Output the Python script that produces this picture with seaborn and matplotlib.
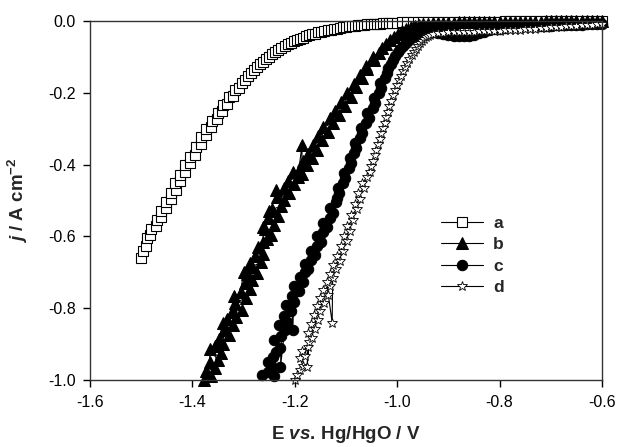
import matplotlib
matplotlib.use("Agg")
import matplotlib.pyplot as plt
import seaborn as sns

# (E / V, j / A cm-2) pairs, in scan order
pts_a = [(-1.500, -0.660), (-1.497, -0.640), (-1.490, -0.628), (-1.488, -0.605), (-1.482, -0.596),
         (-1.480, -0.580), (-1.472, -0.572), (-1.470, -0.555), (-1.462, -0.546), (-1.462, -0.528),
         (-1.452, -0.522), (-1.452, -0.503), (-1.442, -0.496), (-1.442, -0.478), (-1.432, -0.472),
         (-1.434, -0.452), (-1.424, -0.446), (-1.424, -0.428), (-1.414, -0.422), (-1.414, -0.402),
         (-1.404, -0.396), (-1.404, -0.378), (-1.394, -0.372), (-1.392, -0.350), (-1.384, -0.344),
         (-1.384, -0.324), (-1.374, -0.318), (-1.374, -0.300), (-1.364, -0.296), (-1.362, -0.278),
         (-1.352, -0.272), (-1.350, -0.256), (-1.342, -0.250), (-1.340, -0.234), (-1.332, -0.230),
         (-1.328, -0.212), (-1.320, -0.208), (-1.316, -0.191), (-1.308, -0.187), (-1.304, -0.172),
         (-1.298, -0.163), (-1.292, -0.154), (-1.286, -0.145), (-1.280, -0.137), (-1.274, -0.128),
         (-1.268, -0.120), (-1.262, -0.113), (-1.256, -0.106), (-1.250, -0.099), (-1.244, -0.092),
         (-1.238, -0.086), (-1.232, -0.080), (-1.226, -0.075), (-1.220, -0.070), (-1.214, -0.065),
         (-1.208, -0.061), (-1.202, -0.057), (-1.196, -0.053), (-1.190, -0.049), (-1.184, -0.046),
         (-1.178, -0.043), (-1.172, -0.040), (-1.166, -0.037), (-1.160, -0.035), (-1.154, -0.032),
         (-1.148, -0.030), (-1.142, -0.028), (-1.136, -0.026), (-1.130, -0.024), (-1.124, -0.022),
         (-1.118, -0.021), (-1.112, -0.019), (-1.106, -0.018), (-1.100, -0.016), (-1.094, -0.015),
         (-1.088, -0.014), (-1.082, -0.013), (-1.076, -0.012), (-1.070, -0.011), (-1.064, -0.010),
         (-1.058, -0.009), (-1.052, -0.008), (-1.046, -0.008), (-1.040, -0.007), (-1.034, -0.007),
         (-1.028, -0.006), (-1.022, -0.006), (-1.016, -0.005), (-1.010, -0.005), (-1.000, -0.005),
         (-0.990, -0.004), (-0.980, -0.004), (-0.970, -0.004), (-0.960, -0.004), (-0.950, -0.003),
         (-0.940, -0.003), (-0.930, -0.003), (-0.920, -0.003), (-0.910, -0.003), (-0.900, -0.003),
         (-0.890, -0.002), (-0.880, -0.002), (-0.870, -0.002), (-0.860, -0.002), (-0.850, -0.002),
         (-0.840, -0.002), (-0.830, -0.002), (-0.820, -0.002), (-0.810, -0.002), (-0.800, -0.002),
         (-0.790, -0.001), (-0.780, -0.001), (-0.770, -0.001), (-0.760, -0.001), (-0.750, -0.001),
         (-0.740, -0.001), (-0.730, -0.001), (-0.720, -0.001), (-0.710, -0.001), (-0.700, -0.001),
         (-0.690, -0.001), (-0.680, -0.001), (-0.670, -0.001), (-0.660, 0.000), (-0.650, 0.000),
         (-0.640, 0.000), (-0.630, 0.000), (-0.620, 0.000), (-0.610, 0.000), (-0.600, 0.000)]

pts_b = [(-1.378, -1.000), (-1.364, -0.990), (-1.374, -0.975), (-1.356, -0.968), (-1.366, -0.950),
         (-1.366, -0.915), (-1.350, -0.945), (-1.344, -0.925), (-1.356, -0.905), (-1.340, -0.900),
         (-1.340, -0.840), (-1.348, -0.885), (-1.328, -0.875), (-1.338, -0.860), (-1.320, -0.848),
         (-1.332, -0.830), (-1.314, -0.825), (-1.318, -0.765), (-1.322, -0.810), (-1.304, -0.805),
         (-1.316, -0.785), (-1.296, -0.772), (-1.306, -0.755), (-1.300, -0.700), (-1.288, -0.748),
         (-1.298, -0.730), (-1.284, -0.722), (-1.288, -0.675), (-1.294, -0.705), (-1.274, -0.702),
         (-1.284, -0.685), (-1.266, -0.672), (-1.278, -0.655), (-1.262, -0.648), (-1.272, -0.630),
         (-1.262, -0.615), (-1.262, -0.575), (-1.254, -0.608), (-1.246, -0.596), (-1.258, -0.580),
         (-1.250, -0.530), (-1.240, -0.568), (-1.252, -0.550), (-1.232, -0.542), (-1.244, -0.525),
         (-1.226, -0.515), (-1.236, -0.470), (-1.222, -0.500), (-1.234, -0.490), (-1.212, -0.480),
         (-1.222, -0.465), (-1.202, -0.455), (-1.214, -0.445), (-1.194, -0.435), (-1.204, -0.420),
         (-1.186, -0.425), (-1.186, -0.345), (-1.192, -0.415), (-1.176, -0.402), (-1.184, -0.390),
         (-1.166, -0.382), (-1.174, -0.370), (-1.156, -0.358), (-1.164, -0.345), (-1.146, -0.332),
         (-1.154, -0.320), (-1.136, -0.308), (-1.144, -0.295), (-1.126, -0.285), (-1.132, -0.270),
         (-1.114, -0.262), (-1.122, -0.250), (-1.102, -0.237), (-1.110, -0.225), (-1.090, -0.212),
         (-1.098, -0.200), (-1.080, -0.185), (-1.084, -0.175), (-1.068, -0.160), (-1.072, -0.150),
         (-1.058, -0.135), (-1.060, -0.125), (-1.046, -0.110), (-1.048, -0.100), (-1.036, -0.088),
         (-1.030, -0.075), (-1.022, -0.064), (-1.014, -0.053), (-1.006, -0.044), (-0.998, -0.036),
         (-0.990, -0.028), (-0.982, -0.022), (-0.974, -0.017), (-0.966, -0.013), (-0.958, -0.010),
         (-0.950, -0.008), (-0.940, -0.007), (-0.930, -0.006), (-0.920, -0.006), (-0.910, -0.005),
         (-0.900, -0.005), (-0.890, -0.005), (-0.880, -0.004), (-0.870, -0.004), (-0.860, -0.004),
         (-0.850, -0.004), (-0.840, -0.003), (-0.830, -0.003), (-0.820, -0.003), (-0.810, -0.003),
         (-0.800, -0.003), (-0.790, -0.003), (-0.780, -0.002), (-0.770, -0.002), (-0.760, -0.002),
         (-0.750, -0.002), (-0.740, -0.002), (-0.730, -0.002), (-0.720, -0.002), (-0.710, -0.001),
         (-0.700, -0.001), (-0.690, -0.001), (-0.680, -0.001), (-0.670, -0.001), (-0.660, -0.001),
         (-0.650, -0.001), (-0.640, -0.001), (-0.630, 0.000), (-0.620, 0.000), (-0.610, 0.000),
         (-0.600, 0.000)]

pts_c = [(-1.264, -0.985), (-1.252, -0.978), (-1.244, -0.965), (-1.252, -0.950), (-1.242, -0.935),
         (-1.240, -0.990), (-1.236, -0.922), (-1.228, -0.910), (-1.240, -0.890), (-1.226, -0.878),
         (-1.228, -0.965), (-1.220, -0.862), (-1.230, -0.848), (-1.216, -0.838), (-1.222, -0.822),
         (-1.208, -0.808), (-1.218, -0.792), (-1.202, -0.782), (-1.204, -0.862), (-1.206, -0.765),
         (-1.192, -0.752), (-1.202, -0.738), (-1.184, -0.728), (-1.190, -0.712), (-1.180, -0.700),
         (-1.174, -0.690), (-1.180, -0.676), (-1.168, -0.665), (-1.160, -0.652), (-1.168, -0.640),
         (-1.156, -0.628), (-1.148, -0.615), (-1.156, -0.600), (-1.144, -0.588), (-1.138, -0.575),
         (-1.144, -0.562), (-1.132, -0.548), (-1.126, -0.535), (-1.132, -0.520), (-1.120, -0.505),
         (-1.118, -0.492), (-1.114, -0.478), (-1.116, -0.464), (-1.106, -0.452), (-1.102, -0.438),
         (-1.104, -0.424), (-1.094, -0.410), (-1.090, -0.396), (-1.092, -0.382), (-1.084, -0.368),
         (-1.080, -0.354), (-1.082, -0.340), (-1.072, -0.326), (-1.068, -0.312), (-1.070, -0.298),
         (-1.060, -0.284), (-1.056, -0.270), (-1.058, -0.256), (-1.048, -0.242), (-1.044, -0.228),
         (-1.046, -0.214), (-1.036, -0.200), (-1.032, -0.186), (-1.034, -0.172), (-1.024, -0.158),
         (-1.020, -0.145), (-1.018, -0.132), (-1.012, -0.120), (-1.008, -0.108), (-1.004, -0.097),
         (-0.998, -0.087), (-0.994, -0.078), (-0.988, -0.069), (-0.982, -0.060), (-0.976, -0.052),
         (-0.970, -0.045), (-0.962, -0.039), (-0.954, -0.034), (-0.946, -0.031), (-0.938, -0.030),
         (-0.930, -0.031), (-0.920, -0.033), (-0.910, -0.036), (-0.900, -0.039), (-0.890, -0.041),
         (-0.880, -0.043), (-0.870, -0.043), (-0.860, -0.041), (-0.850, -0.038), (-0.840, -0.034),
         (-0.830, -0.030), (-0.820, -0.026), (-0.810, -0.023), (-0.800, -0.021), (-0.790, -0.019),
         (-0.780, -0.018), (-0.770, -0.017), (-0.760, -0.016), (-0.750, -0.015), (-0.740, -0.015),
         (-0.730, -0.014), (-0.720, -0.014), (-0.710, -0.013), (-0.700, -0.013), (-0.690, -0.012),
         (-0.680, -0.012), (-0.670, -0.011), (-0.660, -0.011), (-0.650, -0.010), (-0.640, -0.010),
         (-0.630, -0.009), (-0.620, -0.009), (-0.610, -0.008), (-0.600, -0.008)]

pts_d = [(-1.200, -1.000), (-1.196, -0.985), (-1.190, -0.972), (-1.184, -0.960), (-1.190, -0.940),
         (-1.180, -0.932), (-1.186, -0.918), (-1.174, -0.908), (-1.176, -0.965), (-1.172, -0.895),
         (-1.166, -0.882), (-1.174, -0.870), (-1.160, -0.858), (-1.168, -0.845), (-1.154, -0.832),
         (-1.162, -0.820), (-1.150, -0.808), (-1.156, -0.795), (-1.142, -0.785), (-1.150, -0.772),
         (-1.136, -0.762), (-1.144, -0.750), (-1.132, -0.738), (-1.138, -0.728), (-1.127, -0.840),
         (-1.126, -0.716), (-1.132, -0.705), (-1.120, -0.692), (-1.126, -0.680), (-1.112, -0.668),
         (-1.118, -0.655), (-1.106, -0.642), (-1.110, -0.628), (-1.098, -0.614), (-1.104, -0.600),
         (-1.092, -0.585), (-1.098, -0.570), (-1.086, -0.555), (-1.090, -0.540), (-1.078, -0.525),
         (-1.082, -0.510), (-1.072, -0.495), (-1.076, -0.480), (-1.064, -0.465), (-1.068, -0.450),
         (-1.058, -0.435), (-1.054, -0.420), (-1.052, -0.405), (-1.048, -0.390), (-1.044, -0.374),
         (-1.042, -0.358), (-1.038, -0.343), (-1.034, -0.328), (-1.032, -0.313), (-1.028, -0.298),
         (-1.024, -0.283), (-1.022, -0.268), (-1.018, -0.253), (-1.016, -0.238), (-1.012, -0.222),
         (-1.008, -0.207), (-1.004, -0.192), (-1.000, -0.178), (-0.996, -0.165), (-0.992, -0.152),
         (-0.988, -0.140), (-0.984, -0.128), (-0.980, -0.117), (-0.976, -0.106), (-0.972, -0.096),
         (-0.968, -0.087), (-0.964, -0.078), (-0.960, -0.070), (-0.956, -0.062), (-0.952, -0.055),
         (-0.948, -0.049), (-0.944, -0.045), (-0.940, -0.041), (-0.935, -0.038), (-0.930, -0.036),
         (-0.920, -0.034), (-0.910, -0.033), (-0.900, -0.032), (-0.890, -0.032), (-0.880, -0.031),
         (-0.870, -0.031), (-0.860, -0.030), (-0.850, -0.030), (-0.840, -0.029), (-0.830, -0.029),
         (-0.820, -0.028), (-0.810, -0.028), (-0.800, -0.027), (-0.790, -0.026), (-0.780, -0.025),
         (-0.770, -0.025), (-0.760, -0.024), (-0.750, -0.023), (-0.740, -0.022), (-0.730, -0.021),
         (-0.720, -0.020), (-0.710, -0.019), (-0.700, -0.018), (-0.690, -0.017), (-0.680, -0.016),
         (-0.670, -0.015), (-0.660, -0.014), (-0.650, -0.013), (-0.640, -0.012), (-0.630, -0.011),
         (-0.620, -0.010), (-0.610, -0.009), (-0.600, -0.008)]

labels = ['a', 'b', 'c', 'd']
x_ticks = [-1.6, -1.4, -1.2, -1.0, -0.8, -0.6]
y_ticks = [0.0, -0.2, -0.4, -0.6, -0.8, -1.0]

sns.set_style("ticks")
plt.rcParams['font.family'] = ['Liberation Sans', 'DejaVu Sans']
plt.rcParams['axes.unicode_minus'] = False
plt.rcParams['mathtext.fontset'] = 'custom'
plt.rcParams['mathtext.rm'] = 'Liberation Sans:bold'
plt.rcParams['mathtext.bf'] = 'Liberation Sans:bold'
plt.rcParams['mathtext.it'] = 'Liberation Sans:italic:bold'

fig = plt.figure(figsize=(6.18, 4.47), dpi=100)
ax = fig.add_axes([0.1456, 0.150, 0.8285, 0.803])

styles = [
    dict(marker='s', markersize=6.5, markerfacecolor='white', markeredgewidth=0.8),
    dict(marker='^', markersize=8, markerfacecolor='black'),
    dict(marker='o', markersize=7.5, markerfacecolor='black'),
    dict(marker='*', markersize=7.5, markerfacecolor='white', markeredgewidth=0.6),
]
for pts, lab, st in zip([pts_a, pts_b, pts_c, pts_d], labels, styles):
    E = [p[0] for p in pts]
    j = [p[1] for p in pts]
    sns.lineplot(x=E, y=j, ax=ax, sort=False, estimator=None, color='black', lw=0.8,
                 markeredgecolor='black', clip_on=False, label=lab, **st)

ax.set_xlim(-1.6, -0.6)
ax.set_ylim(-1.0, 0.0)
ax.set_xticks(x_ticks)
ax.set_yticks(y_ticks)
ax.set_xticklabels([f"{v:.1f}" for v in x_ticks])
ax.set_yticklabels([f"{v:.1f}" for v in y_ticks])
ax.tick_params(direction='out', length=5, width=1, labelsize=11.5, colors='black')
ax.tick_params(axis='x', pad=6)
ax.tick_params(axis='y', pad=5)
for s in ax.spines.values():
    s.set_color('#333333')
    s.set_linewidth(1)

ax.set_xlabel(r"E $\it{vs.}\,$Hg/HgO / V", fontsize=13.5, fontweight='bold', labelpad=10)
ax.set_ylabel(r"$\it{j}$ / A cm$^{-2}$", fontsize=13.5, fontweight='bold', labelpad=13)

ax.legend(loc='center left', bbox_to_anchor=(0.686, 0.347), frameon=False,
          handlelength=2.4, handletextpad=0.6, labelspacing=0.35, borderpad=0,
          borderaxespad=0, prop={'weight': 'bold', 'size': 12.5})

fig.savefig("out.png", dpi=100)
